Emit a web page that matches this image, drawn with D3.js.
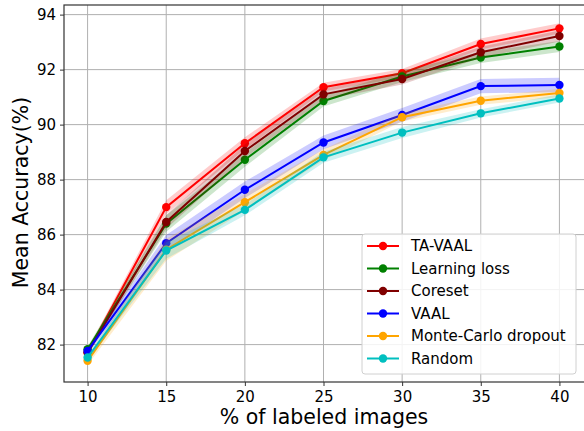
<!DOCTYPE html>
<html>
<head>
<meta charset="utf-8">
<script src="https://cdn.jsdelivr.net/npm/d3@7"></script>
<style>
  html, body { margin: 0; padding: 0; background: #fff; }
  svg { display: block; font-family: "DejaVu Sans", sans-serif; }
</style>
</head>
<body>
<svg id="chart" width="584" height="431"></svg>
<script>
// Percentage of labeled images at each active-learning cycle
const labeled = [10, 15, 20, 25, 30, 35, 40];

const seriesNames = ["TA-VAAL", "Learning loss", "Coreset", "VAAL", "Monte-Carlo dropout", "Random"];
const seriesColors = ["#ff0000", "#008000", "#800000", "#0000ff", "#ffa500", "#00bfbf"];

// Mean accuracy (%) per method
const taVaal       = [81.72, 87.00, 89.32, 91.36, 91.87, 92.93, 93.50];
const learningLoss = [81.83, 86.40, 88.72, 90.86, 91.75, 92.44, 92.84];
const coreset      = [81.70, 86.46, 89.04, 91.10, 91.66, 92.63, 93.22];
const vaal         = [81.77, 85.69, 87.63, 89.35, 90.35, 91.40, 91.44];
const mcDropout    = [81.41, 85.45, 87.18, 88.90, 90.27, 90.87, 91.15];
const random       = [81.53, 85.42, 86.90, 88.81, 89.71, 90.41, 90.95];

// Standard deviation across runs (shaded band)
const taVaalStd       = [0.10, 0.25, 0.22, 0.16, 0.15, 0.20, 0.19];
const learningLossStd = [0.10, 0.30, 0.25, 0.20, 0.20, 0.20, 0.20];
const coresetStd      = [0.10, 0.25, 0.25, 0.20, 0.20, 0.20, 0.20];
const vaalStd         = [0.10, 0.30, 0.30, 0.25, 0.25, 0.26, 0.26];
const mcDropoutStd    = [0.15, 0.40, 0.30, 0.20, 0.16, 0.15, 0.15];
const randomStd       = [0.10, 0.30, 0.20, 0.20, 0.20, 0.15, 0.15];

const xTicks = [10, 15, 20, 25, 30, 35, 40];
const yTicks = [82, 84, 86, 88, 90, 92, 94];

const means = [taVaal, learningLoss, coreset, vaal, mcDropout, random];
const stds = [taVaalStd, learningLossStd, coresetStd, vaalStd, mcDropoutStd, randomStd];

const series = seriesNames.map((name, i) => ({
  name,
  color: seriesColors[i],
  points: labeled.map((x, j) => ({ x, y: means[i][j], s: stds[i][j] }))
}));

const margin = { left: 64, top: 5, right: 585, bottom: 382 };
const svg = d3.select("#chart");

const x = d3.scaleLinear().domain([8.5, 41.5]).range([margin.left, 583]);
const y = d3.scaleLinear().domain([80.64, 94.35]).range([margin.bottom, margin.top]);

// Grid lines
const grid = svg.append("g");
grid.selectAll("line.gx").data(xTicks).join("line")
  .attr("x1", d => x(d)).attr("x2", d => x(d))
  .attr("y1", margin.top).attr("y2", margin.bottom)
  .attr("stroke", "#b0b0b0").attr("stroke-width", 1);
grid.selectAll("line.gy").data(yTicks).join("line")
  .attr("x1", margin.left).attr("x2", margin.right)
  .attr("y1", d => y(d)).attr("y2", d => y(d))
  .attr("stroke", "#b0b0b0").attr("stroke-width", 1);

// Bands, lines and markers
const area = d3.area().x(d => x(d.x)).y0(d => y(d.y - d.s)).y1(d => y(d.y + d.s));
const line = d3.line().x(d => x(d.x)).y(d => y(d.y));

const plot = svg.append("g");
series.forEach(s => {
  const g = plot.append("g");
  g.append("path").datum(s.points).attr("d", area)
    .attr("fill", s.color).attr("fill-opacity", 0.2).attr("stroke", "none");
  g.append("path").datum(s.points).attr("d", line)
    .attr("fill", "none").attr("stroke", s.color).attr("stroke-width", 2);
  g.selectAll("circle").data(s.points).join("circle")
    .attr("cx", d => x(d.x)).attr("cy", d => y(d.y)).attr("r", 4.2)
    .attr("fill", s.color);
});

// Axes
const xAxis = svg.append("g").attr("transform", `translate(0,${margin.bottom})`)
  .call(d3.axisBottom(x).tickValues(xTicks).tickSize(4).tickPadding(5).tickFormat(d3.format("d")));
const yAxis = svg.append("g").attr("transform", `translate(${margin.left},0)`)
  .call(d3.axisLeft(y).tickValues(yTicks).tickSize(4).tickPadding(4).tickFormat(d3.format("d")));
[xAxis, yAxis].forEach(a => {
  a.select(".domain").remove();
  a.selectAll("text").attr("font-size", 15).attr("fill", "#000").attr("font-family", "DejaVu Sans, sans-serif");
  a.selectAll("line").attr("stroke", "#333");
});

// Frame
svg.append("rect")
  .attr("x", margin.left).attr("y", margin.top)
  .attr("width", margin.right - margin.left).attr("height", margin.bottom - margin.top)
  .attr("fill", "none").attr("stroke", "#333").attr("stroke-width", 1.2);

// Axis titles
svg.append("text").attr("x", 324).attr("y", 424).attr("text-anchor", "middle")
  .attr("font-size", 20.5).text("% of labeled images");
svg.append("text").attr("transform", "translate(28,192.5) rotate(-90)").attr("text-anchor", "middle")
  .attr("font-size", 20.5).text("Mean Accuracy(%)");

// Legend
const lg = svg.append("g").attr("transform", "translate(362,234)");
lg.append("rect").attr("width", 214).attr("height", 140).attr("rx", 3)
  .attr("fill", "#fff").attr("fill-opacity", 0.85).attr("stroke", "#d0d0d0");
series.forEach((s, i) => {
  const yy = 12 + i * 22.5;
  lg.append("line").attr("x1", 5).attr("x2", 37).attr("y1", yy).attr("y2", yy)
    .attr("stroke", s.color).attr("stroke-width", 2);
  lg.append("circle").attr("cx", 21).attr("cy", yy).attr("r", 4.2).attr("fill", s.color);
  lg.append("text").attr("x", 49).attr("y", yy).attr("dy", "0.36em")
    .attr("font-size", 15).text(s.name);
});
</script>
</body>
</html>
